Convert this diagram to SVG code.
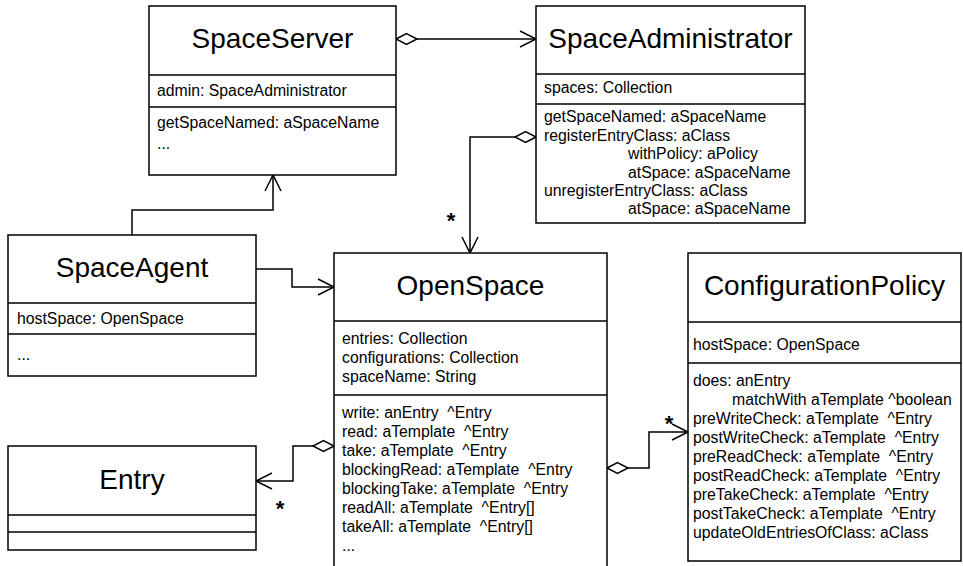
<svg xmlns="http://www.w3.org/2000/svg" width="963" height="566" viewBox="0 0 963 566">
  <style>
    .box { fill: #fff; stroke: #000; stroke-width: 1.5; }
    .div { stroke: #000; stroke-width: 1.5; }
    .title { font-family: "Liberation Sans", Arial, sans-serif; font-size: 28px; fill: #000; text-anchor: middle; }
    .txt { font-family: "Liberation Sans", Arial, sans-serif; font-size: 15.8px; fill: #000; white-space: pre; }
    .mult { font-family: "Liberation Sans", Arial, sans-serif; font-size: 22px; font-weight: bold; fill: #000; text-anchor: middle; }
    .edge { fill: none; stroke: #000; stroke-width: 1.5; }
  </style>
  <defs>
    <marker id="diamond" markerUnits="userSpaceOnUse" markerWidth="24" markerHeight="14" refX="0" refY="6" orient="auto" overflow="visible">
      <path d="M0,6 L10.5,0.5 L21,6 L10.5,11.5 Z" fill="#fff" stroke="#000" stroke-width="1.5"/>
    </marker>
    <marker id="open" markerUnits="userSpaceOnUse" markerWidth="20" markerHeight="20" refX="16" refY="9" orient="auto" overflow="visible">
      <path d="M0,1 L16,9 L0,17" fill="none" stroke="#000" stroke-width="1.5"/>
    </marker>
  </defs>

  <!-- connectors -->
  <g id="connectors">
    <path class="edge" d="M396,39 L536,39" marker-start="url(#diamond)" marker-end="url(#open)"/>
    <path class="edge" d="M536,137 L470,137 L470,253" marker-start="url(#diamond)" marker-end="url(#open)"/>
    <path class="edge" d="M132,235 L132,210 L273,210 L273,175" marker-end="url(#open)"/>
    <path class="edge" d="M256,269 L292,269 L292,287 L334,287" marker-end="url(#open)"/>
    <path class="edge" d="M334,446 L293,446 L293,481 L256,481" marker-start="url(#diamond)" marker-end="url(#open)"/>
    <path class="edge" d="M607,468 L649,468 L649,432 L688,432" marker-start="url(#diamond)" marker-end="url(#open)"/>
    <text class="mult" x="451" y="228">*</text>
    <text class="mult" x="280" y="516">*</text>
    <text class="mult" x="669" y="431">*</text>
  </g>

  <!-- SpaceServer -->
  <g id="SpaceServer">
    <rect class="box" x="149" y="6" width="247" height="169"/>
    <line class="div" x1="149" y1="75" x2="396" y2="75"/>
    <line class="div" x1="149" y1="107" x2="396" y2="107"/>
    <text class="title" x="272.5" y="48">SpaceServer</text>
    <text class="txt" x="157" y="96">admin: SpaceAdministrator</text>
    <text class="txt" x="157" y="128">getSpaceNamed: aSpaceName</text>
    <text class="txt" x="157" y="149">...</text>
  </g>

  <!-- SpaceAdministrator -->
  <g id="SpaceAdministrator">
    <rect class="box" x="536" y="6" width="269" height="217"/>
    <line class="div" x1="536" y1="74" x2="805" y2="74"/>
    <line class="div" x1="536" y1="104" x2="805" y2="104"/>
    <text class="title" x="670.5" y="48">SpaceAdministrator</text>
    <text class="txt" x="544" y="93">spaces: Collection</text>
    <text class="txt" x="544" y="122">getSpaceNamed: aSpaceName</text>
    <text class="txt" x="544" y="140.5">registerEntryClass: aClass</text>
    <text class="txt" x="628" y="159">withPolicy: aPolicy</text>
    <text class="txt" x="628" y="177.5">atSpace: aSpaceName</text>
    <text class="txt" x="544" y="196">unregisterEntryClass: aClass</text>
    <text class="txt" x="628" y="214">atSpace: aSpaceName</text>
  </g>

  <!-- SpaceAgent -->
  <g id="SpaceAgent">
    <rect class="box" x="8" y="235" width="248" height="141"/>
    <line class="div" x1="8" y1="303" x2="256" y2="303"/>
    <line class="div" x1="8" y1="334" x2="256" y2="334"/>
    <text class="title" x="132" y="277">SpaceAgent</text>
    <text class="txt" x="17" y="324">hostSpace: OpenSpace</text>
    <text class="txt" x="17" y="360">...</text>
  </g>

  <!-- Entry -->
  <g id="Entry">
    <rect class="box" x="8" y="446" width="248" height="104"/>
    <line class="div" x1="8" y1="515" x2="256" y2="515"/>
    <line class="div" x1="8" y1="532" x2="256" y2="532"/>
    <text class="title" x="132" y="489">Entry</text>
  </g>

  <!-- OpenSpace -->
  <g id="OpenSpace">
    <rect class="box" x="334" y="253" width="273" height="330"/>
    <line class="div" x1="334" y1="321" x2="607" y2="321"/>
    <line class="div" x1="334" y1="395" x2="607" y2="395"/>
    <text class="title" x="470.5" y="295">OpenSpace</text>
    <text class="txt" x="342" y="344">entries: Collection</text>
    <text class="txt" x="342" y="363">configurations: Collection</text>
    <text class="txt" x="342" y="382">spaceName: String</text>
    <text class="txt" x="342" y="418">write: anEntry  ^Entry</text>
    <text class="txt" x="342" y="437">read: aTemplate  ^Entry</text>
    <text class="txt" x="342" y="456">take: aTemplate  ^Entry</text>
    <text class="txt" x="342" y="475">blockingRead: aTemplate  ^Entry</text>
    <text class="txt" x="342" y="494">blockingTake: aTemplate  ^Entry</text>
    <text class="txt" x="342" y="513">readAll: aTemplate  ^Entry[]</text>
    <text class="txt" x="342" y="532">takeAll: aTemplate  ^Entry[]</text>
    <text class="txt" x="342" y="551">...</text>
  </g>

  <!-- ConfigurationPolicy -->
  <g id="ConfigurationPolicy">
    <rect class="box" x="688" y="253" width="273" height="308"/>
    <line class="div" x1="688" y1="322" x2="961" y2="322"/>
    <line class="div" x1="688" y1="363" x2="961" y2="363"/>
    <text class="title" x="824.5" y="295">ConfigurationPolicy</text>
    <text class="txt" x="693" y="350">hostSpace: OpenSpace</text>
    <text class="txt" x="693" y="386">does: anEntry</text>
    <text class="txt" x="732" y="405">matchWith aTemplate ^boolean</text>
    <text class="txt" x="693" y="424">preWriteCheck: aTemplate  ^Entry</text>
    <text class="txt" x="693" y="443">postWriteCheck: aTemplate  ^Entry</text>
    <text class="txt" x="693" y="462">preReadCheck: aTemplate  ^Entry</text>
    <text class="txt" x="693" y="481">postReadCheck: aTemplate  ^Entry</text>
    <text class="txt" x="693" y="500">preTakeCheck: aTemplate  ^Entry</text>
    <text class="txt" x="693" y="519">postTakeCheck: aTemplate  ^Entry</text>
    <text class="txt" x="693" y="538">updateOldEntriesOfClass: aClass</text>
  </g>
</svg>
